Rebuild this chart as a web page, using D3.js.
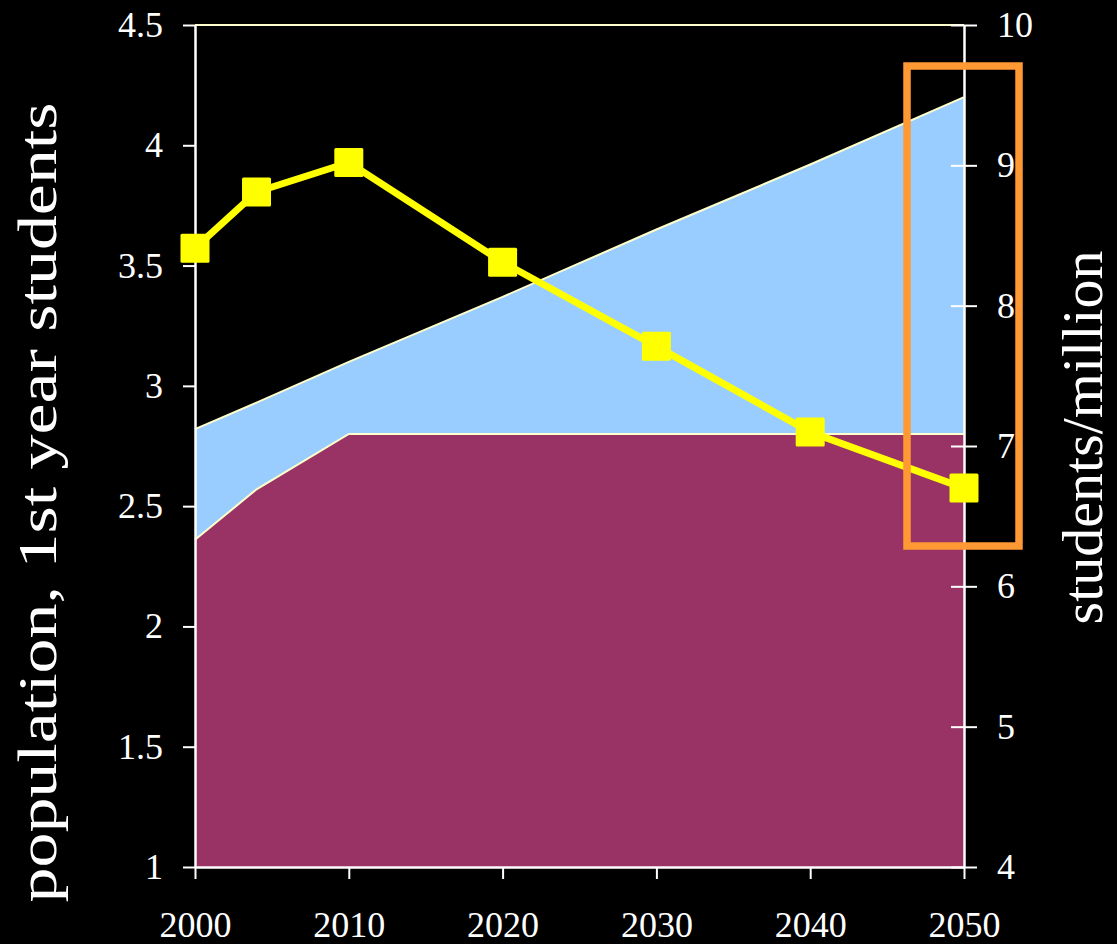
<!DOCTYPE html>
<html lang="en">
  <head>
    <meta charset="UTF-8" />
    <title>students per million</title>
    <script src="https://d3js.org/d3.v7.min.js"></script>
    <style>
      body { margin: 0; background: #000; }
      svg text { font-family: "Times New Roman", "Liberation Serif", Tinos, "DejaVu Serif", serif !important; fill: #fff; }
    </style>
  </head>
  <body>
    <script>
      const width = 1117;
      const height = 944;

      // data
      const years = [2000, 2004, 2010, 2020, 2030, 2040, 2050];
      const population = [2.82, 2.93, 3.10, 3.37, 3.65, 3.92, 4.20];
      const firstYear = [2.36, 2.57, 2.80, 2.80, 2.80, 2.80, 2.80];
      const perMillion = [8.41, 8.81, 9.02, 8.31, 7.71, 7.10, 6.70];
      const xTicks = [2000, 2010, 2020, 2030, 2040, 2050];
      const leftTicks = [1, 1.5, 2, 2.5, 3, 3.5, 4, 4.5];
      const rightTicks = [4, 5, 6, 7, 8, 9, 10];

      const svg = d3
        .select("body")
        .append("svg")
        .attr("width", width)
        .attr("height", height)
        .style("background", "#000");

      const x = d3.scaleLinear().domain([2000, 2050]).range([195, 964]);
      const yL = d3.scaleLinear().domain([1, 4.5]).range([867, 25]);
      const yR = d3.scaleLinear().domain([4, 10]).range([867, 25]);

      const rows = years.map((yr, i) => ({
        year: yr,
        pop: population[i],
        first: firstYear[i],
        spm: perMillion[i],
      }));

      // areas
      const popArea = d3.area().x(d => x(d.year)).y0(yL(1)).y1(d => yL(d.pop));
      const firstArea = d3.area().x(d => x(d.year)).y0(yL(1)).y1(d => yL(d.first));
      svg.append("path").attr("d", popArea(rows)).attr("fill", "#99ccff");
      svg.append("path").attr("d", firstArea(rows)).attr("fill", "#993366");
      svg.append("path")
        .attr("d", d3.line().x(d => x(d.year)).y(d => yL(d.pop))(rows))
        .attr("fill", "none").attr("stroke", "#ffffcc").attr("stroke-width", 2);
      svg.append("path")
        .attr("d", d3.line().x(d => x(d.year)).y(d => yL(d.first))(rows))
        .attr("fill", "none").attr("stroke", "#ffffcc").attr("stroke-width", 2);

      // top border
      svg.append("line")
        .attr("x1", x(2000)).attr("x2", x(2050))
        .attr("y1", yL(4.5)).attr("y2", yL(4.5))
        .attr("stroke", "#ffffcc").attr("stroke-width", 2);

      // axes
      const fontSize = 36;
      const gx = svg.append("g")
        .attr("transform", `translate(0,${yL(1)})`)
        .call(d3.axisBottom(x).tickValues(xTicks).tickFormat(d3.format("d"))
          .tickSize(12).tickSizeOuter(0).tickPadding(32));
      const gl = svg.append("g")
        .attr("transform", `translate(${x(2000)},0)`)
        .call(d3.axisLeft(yL).tickValues(leftTicks).tickFormat(d => d)
          .tickSize(12).tickSizeOuter(0).tickPadding(20));
      const gr = svg.append("g")
        .attr("transform", `translate(${x(2050)},0)`)
        .call(d3.axisRight(yR).tickValues(rightTicks).tickFormat(d => d)
          .tickSize(13).tickSizeOuter(0).tickPadding(20));
      gr.selectAll(".tick").append("line").attr("x2", -13).attr("stroke", "#fff");

      [gx, gl, gr].forEach(g => {
        g.attr("font-family", null);
        g.select(".domain").attr("stroke", "#fff").attr("stroke-width", 2.5);
        g.selectAll(".tick line").attr("stroke", "#fff").attr("stroke-width", 2);
        g.selectAll(".tick text")
          .attr("fill", "#fff")
          .style("font-size", fontSize + "px");
      });

      // students per million line
      const yellow = "#ffff00";
      svg.append("path")
        .attr("d", d3.line().x(d => x(d.year)).y(d => yR(d.spm))(rows))
        .attr("fill", "none").attr("stroke", yellow).attr("stroke-width", 7);
      const ms = 29;
      svg.selectAll("rect.marker")
        .data(rows)
        .join("rect")
        .attr("class", "marker")
        .attr("x", d => x(d.year) - ms / 2)
        .attr("y", d => yR(d.spm) - ms / 2)
        .attr("width", ms).attr("height", ms)
        .attr("rx", 1.5)
        .attr("fill", yellow);

      // highlight box
      svg.append("rect")
        .attr("x", 907).attr("y", 66)
        .attr("width", 112).attr("height", 480)
        .attr("fill", "none")
        .attr("stroke", "#ff9933")
        .attr("stroke-width", 7.5);

      // axis titles (the left one is drawn stretched along its length, as in the picture)
      svg.append("text")
        .attr("transform", `translate(56,${(100 + 905) / 2}) rotate(-90)`)
        .attr("text-anchor", "middle")
        .attr("textLength", 800)
        .attr("lengthAdjust", "spacingAndGlyphs")
        .style("font-size", "54px")
        .text("population, 1st year students");
      svg.append("text")
        .attr("transform", `translate(1102,${(250 + 625) / 2}) rotate(-90)`)
        .attr("text-anchor", "middle")
        .style("font-size", "58px")
        .text("students/million");
    </script>
  </body>
</html>
